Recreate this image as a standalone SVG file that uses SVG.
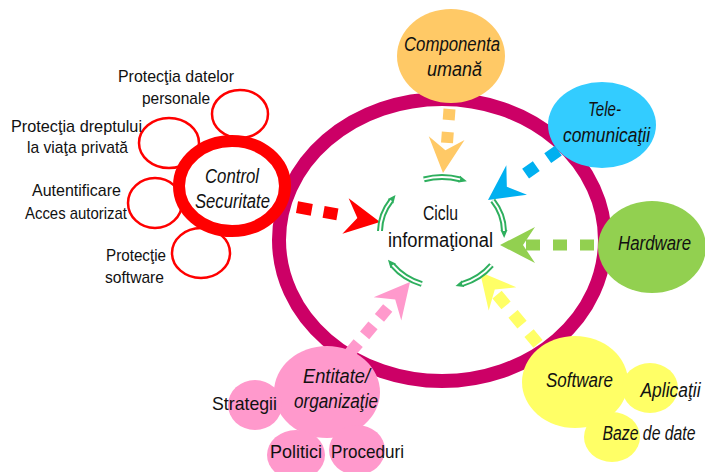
<svg xmlns="http://www.w3.org/2000/svg" width="705" height="472" viewBox="0 0 705 472">
<defs>
<style>
text{font-family:"Liberation Sans",Arial,sans-serif;fill:#111;text-anchor:middle}
.lab{font-size:17px}
.it{font-size:20px;font-style:italic}
.ctr{font-size:20px}
.sub{fill:#fff;stroke:#f00;stroke-width:2.5}
.dash{fill:none}
.arc{fill:none;stroke:#2EAF5E;stroke-width:6}
.arcin{fill:none;stroke:#fff;stroke-width:2}
</style>
<path id="ah" d="M0,0 L-35,-18 L-23,0 L-35,18 Z"/>
<marker id="cyc" markerUnits="userSpaceOnUse" markerWidth="10" markerHeight="10" refX="1" refY="5" orient="auto"><path d="M0,1.5 L8,5 L0,8.5 Z" fill="#2EAF5E"/></marker>
</defs>
<rect width="705" height="472" fill="#fff"/>

<g id="ring">
<ellipse cx="442" cy="240" rx="163" ry="141" fill="none" stroke="#CC0066" stroke-width="14"/>
</g>

<g id="connectors">
<g id="c-control"><path class="dash" d="M297,207.2 L337.4,214.3" stroke="#f00" stroke-width="12" stroke-dasharray="15 12"/><use href="#ah" transform="translate(380,222) rotate(10)" fill="#f00"/></g>
<g id="c-uman"><path class="dash" d="M449.5,109 L447,143" stroke="#FFC966" stroke-width="12" stroke-dasharray="11 12"/><use href="#ah" transform="translate(443,173) rotate(96)" fill="#FFC966"/></g>
<g id="c-tele"><path class="dash" d="M558.4,150.7 L525.6,173.6" stroke="#00B0F0" stroke-width="12" stroke-dasharray="13 14"/><use href="#ah" transform="translate(488,200) rotate(145)" fill="#00B0F0"/></g>
<g id="c-hard"><path class="dash" d="M594,245 L526,245" stroke="#92D050" stroke-width="11" stroke-dasharray="14 13"/><use href="#ah" transform="translate(500,245) rotate(180)" fill="#92D050"/></g>
<g id="c-soft"><path class="dash" d="M538,343.9 L497,294.6" stroke="#FFFF66" stroke-width="12" stroke-dasharray="14 11"/><use href="#ah" transform="translate(480,272) rotate(-130)" fill="#FFFF66"/></g>
<g id="c-ent"><path class="dash" d="M349.8,353 L387.7,308" stroke="#FF99CC" stroke-width="12" stroke-dasharray="13 10"/><use href="#ah" transform="translate(410,282) rotate(-50)" fill="#FF99CC"/></g>
</g>

<g id="ciclu">
<path class="arc" marker-end="url(#cyc)" d="M423.9,179.4 A62,55 0 0 1 460.1,179.4"/>
<path class="arcin" d="M423.9,179.4 A62,55 0 0 1 460.1,179.4"/>
<path class="arc" marker-end="url(#cyc)" d="M492.8,200.5 A62,55 0 0 1 504,231"/>
<path class="arcin" d="M492.8,200.5 A62,55 0 0 1 504,231"/>
<path class="arc" marker-end="url(#cyc)" d="M491.5,265.1 A62,55 0 0 1 462.2,284"/>
<path class="arcin" d="M491.5,265.1 A62,55 0 0 1 462.2,284"/>
<path class="arc" marker-end="url(#cyc)" d="M421.8,284 A62,55 0 0 1 392.5,265.1"/>
<path class="arcin" d="M421.8,284 A62,55 0 0 1 392.5,265.1"/>
<path class="arc" marker-end="url(#cyc)" d="M380,231 A62,55 0 0 1 391.2,200.5"/>
<path class="arcin" d="M380,231 A62,55 0 0 1 391.2,200.5"/>
<text class="ctr" x="440.5" y="220" textLength="35" lengthAdjust="spacingAndGlyphs">Ciclu</text>
<text class="ctr" x="440.5" y="247" textLength="105" lengthAdjust="spacingAndGlyphs">informaţional</text>
</g>

<g id="date-personale">
<ellipse class="sub" cx="240" cy="114" rx="28" ry="24"/>
<text class="lab" x="176" y="82" textLength="116" lengthAdjust="spacingAndGlyphs">Protecţia datelor</text>
<text class="lab" x="176" y="104" textLength="68" lengthAdjust="spacingAndGlyphs">personale</text>
</g>
<g id="viata-privata">
<ellipse class="sub" cx="169" cy="143" rx="30" ry="25"/>
<text class="lab" x="76.5" y="132" textLength="131" lengthAdjust="spacingAndGlyphs">Protecţia dreptului</text>
<text class="lab" x="77.5" y="153" textLength="101" lengthAdjust="spacingAndGlyphs">la viaţa privată</text>
</g>
<g id="autentificare">
<ellipse class="sub" cx="155" cy="203" rx="27" ry="25"/>
<text class="lab" x="76.5" y="196" textLength="89" lengthAdjust="spacingAndGlyphs">Autentificare</text>
<text class="lab" x="76" y="219" textLength="102" lengthAdjust="spacingAndGlyphs">Acces autorizat</text>
</g>
<g id="protectie-software">
<ellipse class="sub" cx="201" cy="253" rx="29" ry="25"/>
<text class="lab" x="136" y="261" textLength="60" lengthAdjust="spacingAndGlyphs">Protecţie</text>
<text class="lab" x="134.5" y="283" textLength="59" lengthAdjust="spacingAndGlyphs">software</text>
</g>
<g id="control">
<ellipse cx="232" cy="186" rx="53" ry="45" fill="#fff" stroke="#f00" stroke-width="12"/>
<text class="it" x="232" y="183" textLength="54" lengthAdjust="spacingAndGlyphs">Control</text>
<text class="it" x="232.5" y="208" textLength="75" lengthAdjust="spacingAndGlyphs">Securitate</text>
</g>

<g id="componenta">
<ellipse cx="451" cy="56" rx="54" ry="47" fill="#FFC966"/>
<text class="it" x="452" y="50.5" textLength="96" lengthAdjust="spacingAndGlyphs">Componenta</text>
<text class="it" x="454.5" y="76" textLength="55" lengthAdjust="spacingAndGlyphs">umană</text>
</g>
<g id="telecomunicatii">
<ellipse cx="602" cy="125" rx="54" ry="43" fill="#33CCFF"/>
<text class="it" x="604.5" y="116" textLength="33" lengthAdjust="spacingAndGlyphs">Tele-</text>
<text class="it" x="606.5" y="142" textLength="87" lengthAdjust="spacingAndGlyphs">comunicaţii</text>
</g>
<g id="hardware">
<ellipse cx="652" cy="247" rx="54" ry="46" fill="#92D050"/>
<text class="it" x="654.5" y="250" textLength="73" lengthAdjust="spacingAndGlyphs">Hardware</text>
</g>

<g id="software">
<ellipse cx="575" cy="382" rx="53" ry="46" fill="#FFFF66"/>
<text class="it" x="579.5" y="387" textLength="67" lengthAdjust="spacingAndGlyphs">Software</text>
</g>
<g id="aplicatii">
<ellipse cx="650" cy="388" rx="28" ry="25" fill="#FFFF66"/>
<text class="it" x="670.5" y="397" textLength="60" lengthAdjust="spacingAndGlyphs">Aplicaţii</text>
</g>
<g id="baze-de-date">
<ellipse cx="612" cy="437" rx="28" ry="25" fill="#FFFF66"/>
<text class="it" x="649" y="440" textLength="93" lengthAdjust="spacingAndGlyphs">Baze de date</text>
</g>

<g id="entitate">
<ellipse cx="327" cy="392" rx="53" ry="46" fill="#FF99CC"/>
<text class="it" x="336.5" y="383" textLength="67" lengthAdjust="spacingAndGlyphs">Entitate/</text>
<text class="it" x="336" y="408" textLength="84" lengthAdjust="spacingAndGlyphs">organizaţie</text>
</g>
<g id="strategii">
<ellipse cx="255" cy="405" rx="27" ry="25" fill="#FF99CC"/>
<text class="lab" x="244.5" y="410" textLength="65" lengthAdjust="spacingAndGlyphs" style="font-size:19px">Strategii</text>
</g>
<g id="politici">
<ellipse cx="296" cy="455" rx="29" ry="25" fill="#FF99CC"/>
<text class="lab" x="296" y="458" textLength="52" lengthAdjust="spacingAndGlyphs" style="font-size:19px">Politici</text>
</g>
<g id="proceduri">
<ellipse cx="357" cy="450" rx="28" ry="25" fill="#FF99CC"/>
<text class="lab" x="367.5" y="458" textLength="73" lengthAdjust="spacingAndGlyphs" style="font-size:19px">Proceduri</text>
</g>
</svg>
